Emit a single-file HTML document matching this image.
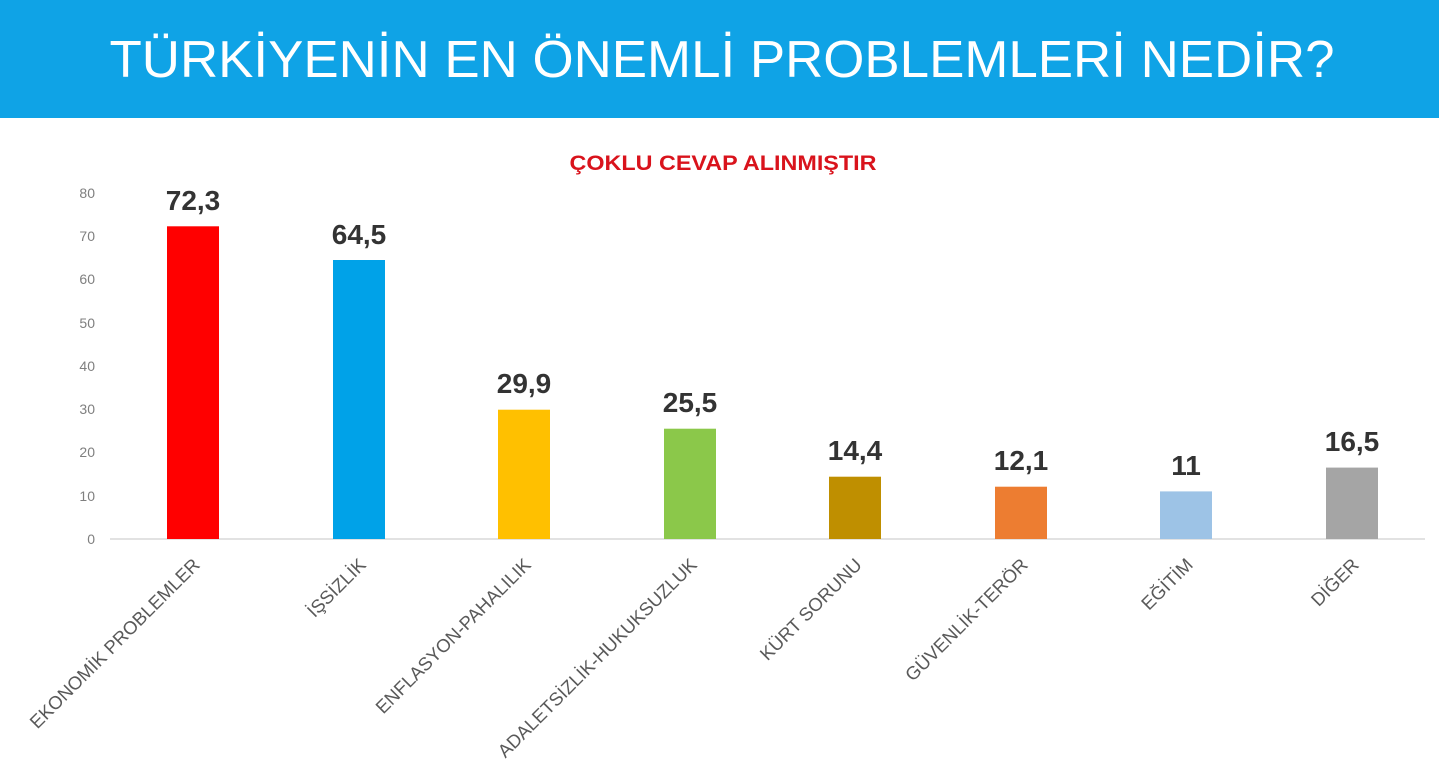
<!DOCTYPE html>
<html><head><meta charset="utf-8"><style>
body{margin:0;width:1439px;height:778px;overflow:hidden;background:#fff}
</style></head><body>
<svg width="1439" height="778" xmlns="http://www.w3.org/2000/svg" font-family="Liberation Sans, sans-serif">
<rect x="0" y="0" width="1439" height="118" fill="#0fa3e6"/>
<text x="722" y="77" fill="#fff" font-size="52" text-anchor="middle" textLength="1225" lengthAdjust="spacingAndGlyphs">TÜRKİYENİN EN ÖNEMLİ PROBLEMLERİ NEDİR?</text>
<text x="723" y="170" fill="#d9131c" font-size="21" font-weight="bold" text-anchor="middle" textLength="307" lengthAdjust="spacingAndGlyphs">ÇOKLU CEVAP ALINMIŞTIR</text>
<g fill="#7f7f7f" font-size="14" text-anchor="end">
<text x="95" y="198">80</text><text x="95" y="241">70</text><text x="95" y="284">60</text><text x="95" y="328">50</text><text x="95" y="371">40</text><text x="95" y="414">30</text><text x="95" y="457">20</text><text x="95" y="501">10</text><text x="95" y="544">0</text>
</g>
<line x1="110" y1="539" x2="1425" y2="539" stroke="#d9d9d9" stroke-width="1.5"/>
<g>
<rect x="167" y="226.3" width="52" height="312.7" fill="#ff0000"/>
<rect x="333" y="260.0" width="52" height="279" fill="#00a2e8"/>
<rect x="498" y="409.7" width="52" height="129.3" fill="#ffc000"/>
<rect x="664" y="428.7" width="52" height="110.3" fill="#8bc84a"/>
<rect x="829" y="476.7" width="52" height="62.3" fill="#bf8f00"/>
<rect x="995" y="486.7" width="52" height="52.3" fill="#ed7d31"/>
<rect x="1160" y="491.4" width="52" height="47.6" fill="#9dc3e6"/>
<rect x="1326" y="467.6" width="52" height="71.4" fill="#a5a5a5"/>
</g>
<g fill="#333" font-size="28" font-weight="bold" text-anchor="middle">
<text x="193" y="210">72,3</text>
<text x="359" y="244">64,5</text>
<text x="524" y="393">29,9</text>
<text x="690" y="412">25,5</text>
<text x="855" y="460">14,4</text>
<text x="1021" y="470">12,1</text>
<text x="1186" y="475">11</text>
<text x="1352" y="451">16,5</text>
</g>
<g fill="#595959" font-size="18.5" text-anchor="end">
<text transform="translate(201,566) rotate(-45)">EKONOMİK PROBLEMLER</text>
<text transform="translate(367,566) rotate(-45)">İŞSİZLİK</text>
<text transform="translate(532,566) rotate(-45)">ENFLASYON-PAHALILIK</text>
<text transform="translate(698,566) rotate(-45)">ADALETSİZLİK-HUKUKSUZLUK</text>
<text transform="translate(863,566) rotate(-45)">KÜRT SORUNU</text>
<text transform="translate(1029,566) rotate(-45)">GÜVENLİK-TERÖR</text>
<text transform="translate(1194,566) rotate(-45)">EĞİTİM</text>
<text transform="translate(1360,566) rotate(-45)">DİĞER</text>
</g>
</svg>
</body></html>
